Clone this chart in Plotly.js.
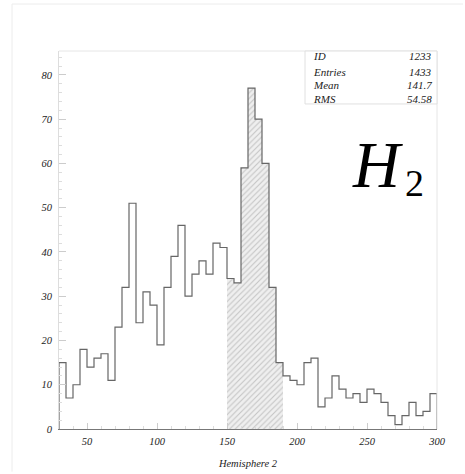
<!DOCTYPE html>
<html>
<head>
<meta charset="utf-8">
<script src="https://cdn.plot.ly/plotly-3.0.1.min.js"></script>
<style>html,body{margin:0;padding:0;background:#fff;}#chart{width:465px;height:474px;}</style>
</head>
<body>
<div id="chart"></div>
<script>
// bin lower edges (width 5)
const binLow = [30,35,40,45,50,55,60,65,70,75,80,85,90,95,100,105,110,115,120,125,130,135,140,145,150,155,160,165,170,175,180,185,190,195,200,205,210,215,220,225,230,235,240,245,250,255,260,265,270,275,280,285,290,295];
const counts = [15,7,10,18,14,16,17,11,23,32,51,24,31,28,19,32,39,46,30,35,38,35,42,41,34,33,59,77,70,60,32,15,12,11,10,15,16,5,7,12,9,7,8,6,9,8,6,3,1,3,6,3,4,8];
const binWidth = 5;
const shadeFrom = 150, shadeTo = 190;
const statLabels = ["ID","Entries","Mean","RMS"];
const statValues = ["1233","1433","141.7","54.58"];
const xTitle = "Hemisphere 2";

// step outline
const sx = [binLow[0]], sy = [0];
binLow.forEach((b,i)=>{ sx.push(b); sy.push(counts[i]); });
sx.push(binLow[binLow.length-1]+binWidth); sy.push(0);

// shaded bars
const bx = [], by = [];
binLow.forEach((b,i)=>{ if (b>=shadeFrom && b<shadeTo){ bx.push(b+binWidth/2); by.push(counts[i]); } });

const SERIF = "'Liberation Serif', 'DejaVu Serif', serif";
const ifont = (size) => ({family:SERIF, size:size, color:"#222", style:"italic"});

const L=59, R=437, T=51, B=429.3;
const W=465, H=474;
const px = x => (x-L)/(R-L);
const py = y => (B-y)/(B-T);

const traces = [
  {type:"bar", x:bx, y:by, width:binWidth, hoverinfo:"skip",
   marker:{color:"#ededed", line:{width:0},
     pattern:{shape:"/", fgcolor:"#c4c4c4", bgcolor:"#efefef", size:4, solidity:0.25}}},
  {type:"scatter", mode:"lines", x:sx, y:sy, line:{shape:"hv", color:"#666", width:1.2}, hoverinfo:"skip"}
];

const rowsY = [56,72,85.5,99.5];
const annotations = [];
statLabels.forEach((l,i)=>{
  annotations.push({xref:"paper", yref:"paper", x:px(311), y:py(rowsY[i]), xanchor:"left", yanchor:"middle",
    text:l, showarrow:false, font:ifont(11)});
  annotations.push({xref:"paper", yref:"paper", x:px(434), y:py(rowsY[i]), xanchor:"right", yanchor:"middle",
    text:statValues[i], showarrow:false, font:ifont(11)});
});
annotations.push({xref:"paper", yref:"paper", x:px(377), y:py(165), xanchor:"center", yanchor:"middle",
  text:"H", showarrow:false, font:{family:SERIF, size:65, color:"#000", style:"italic"}});
annotations.push({xref:"paper", yref:"paper", x:px(414), y:py(183), xanchor:"center", yanchor:"middle",
  text:"2", showarrow:false, font:{family:SERIF, size:38, color:"#000"}});

const layout = {
  width:W, height:H,
  margin:{l:L, r:W-R, t:T, b:H-B},
  paper_bgcolor:"#fff", plot_bgcolor:"#fff",
  showlegend:false, bargap:0,
  font:{family:SERIF},
  xaxis:{range:[30,300], tickvals:[50,100,150,200,250,300], ticks:"inside", ticklen:6, tickcolor:"#cccccc",
    showgrid:false, zeroline:false, showline:true, linecolor:"#777", linewidth:1, mirror:false,
    tickfont:ifont(10.5), ticklabelstandoff:2,
    minor:{dtick:10, tick0:30, ticks:"inside", ticklen:3, tickcolor:"#dddddd", showgrid:false},
    title:{text:xTitle, font:ifont(10.5), standoff:14}},
  yaxis:{range:[0,85.4], dtick:10, ticks:"inside", ticklen:7, tickcolor:"#cccccc",
    showgrid:false, zeroline:false, showline:true, linecolor:"#dddddd", linewidth:1,
    tickfont:ifont(10.5), ticklabelstandoff:4,
    minor:{dtick:2, ticks:"inside", ticklen:3, tickcolor:"#dddddd", showgrid:false}},
  shapes:[
    {type:"line", xref:"paper", yref:"paper", x0:0, x1:1, y0:1, y1:1, line:{color:"#e6e6e6", width:1}},
    {type:"line", xref:"paper", yref:"paper", x0:1, x1:1, y0:0, y1:1, line:{color:"#e6e6e6", width:1}},
    {type:"rect", xref:"paper", yref:"paper", x0:px(305), x1:1, y0:py(104), y1:1, line:{color:"#e0e0e0", width:1}, fillcolor:"rgba(255,255,255,1)", layer:"above"},
    {type:"line", xref:"paper", yref:"paper", x0:px(12), x1:px(463), y0:py(4), y1:py(4), line:{color:"#ececec", width:1}},
    {type:"line", xref:"paper", yref:"paper", x0:px(12), x1:px(12), y0:py(4), y1:py(472), line:{color:"#ececec", width:1}}
  ],
  annotations:annotations
};
Plotly.newPlot("chart", traces, layout, {staticPlot:true, displayModeBar:false});
</script>
</body>
</html>
